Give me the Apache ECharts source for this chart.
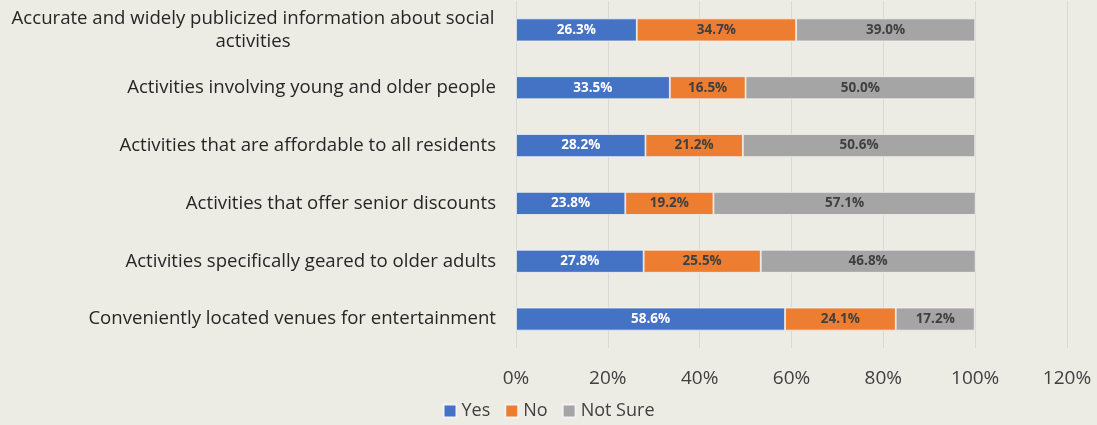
<!DOCTYPE html>
<html><head><meta charset="utf-8">
<script src="https://cdn.jsdelivr.net/npm/echarts@6/dist/echarts.min.js"></script>
<style>html,body{margin:0;padding:0;background:#ECEBE4;}#c{width:1097px;height:425px;}</style>
</head><body><div id="c"></div>
<script>
var categories = [
  "Accurate and widely publicized information about social activities",
  "Activities involving young and older people",
  "Activities that are affordable to all residents",
  "Activities that offer senior discounts",
  "Activities specifically geared to older adults",
  "Conveniently located venues for entertainment"
];
var yesValues = [26.3, 33.5, 28.2, 23.8, 27.8, 58.6];
var noValues = [34.7, 16.5, 21.2, 19.2, 25.5, 24.1];
var notSureValues = [39.0, 50.0, 50.6, 57.1, 46.8, 17.2];
var xTicks = [0, 20, 40, 60, 80, 100, 120];

var font = '"Open Sans", "Liberation Sans", sans-serif';
var chart = echarts.init(document.getElementById('c'));
function mk(name, data, color, labelColor) {
  return {
    name: name, type: 'bar', stack: 'all', data: data, barWidth: 23,
    itemStyle: {color: color, borderColor: '#f2f2f2', borderWidth: 0.8},
    label: {show: true, position: 'inside', formatter: function(p){return p.value.toFixed(1) + '%';},
      color: labelColor, fontSize: 13.5, fontWeight: 'bold', fontFamily: font}
  };
}
chart.setOption({
  backgroundColor: '#ECEBE4',
  animation: false,
  grid: {left: 516, right: 30, top: 1, height: 347, containLabel: false},
  legend: {bottom: 0, left: 'center', itemWidth: 13, itemHeight: 13, itemGap: 14, icon: 'rect',
    textStyle: {fontSize: 18, color: '#404040', fontFamily: font},
    data: ['Yes', 'No', 'Not Sure']},
  xAxis: {type: 'value', min: xTicks[0], max: xTicks[xTicks.length-1], interval: 20,
    axisLine: {show: false}, axisTick: {show: false},
    splitLine: {lineStyle: {color: '#d9d9d9', width: 1}},
    axisLabel: {formatter: '{value}%', fontSize: 19, color: '#404040', margin: 21, fontFamily: font}},
  yAxis: {type: 'category', data: categories, inverse: true,
    axisLine: {show: false}, axisTick: {show: false},
    axisLabel: {fontSize: 18.6, color: '#262626', margin: 20, fontFamily: font, lineHeight: 23,
      formatter: function(v, i) {
        if (i === 0) {
          return '{c|Accurate and widely publicized information about social}\n{c|activities}';
        }
        return v;
      },
      rich: {c: {width: 486, align: 'center', fontSize: 18.6, color: '#262626', fontFamily: font, lineHeight: 23}}
    }},
  series: [
    mk('Yes', yesValues, '#4472C4', '#ffffff'),
    mk('No', noValues, '#ED7D31', '#404040'),
    mk('Not Sure', notSureValues, '#A5A5A5', '#404040')
  ]
});
</script></body></html>
